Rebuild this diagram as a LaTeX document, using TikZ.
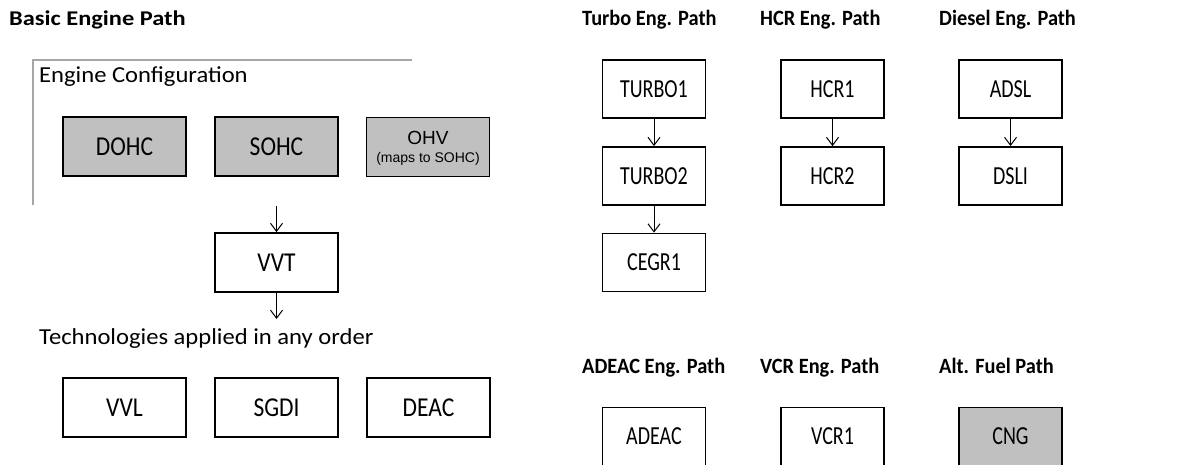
\documentclass[tikz,border=0pt]{standalone}
\usepackage{fontspec}
\usepackage{graphicx}
\setmainfont{Carlito}
\newfontfamily\arialf{Liberation Sans}
\usetikzlibrary{arrows.meta}
\definecolor{boxgray}{HTML}{C0C0C0}
\definecolor{framegray}{HTML}{A6A6A6}
\newcommand{\LT}[1]{\scalebox{1}[1.16]{#1}}
\newcommand{\RT}[1]{\scalebox{1}[1.3]{#1}}
\newcommand{\TT}[1]{\scalebox{1}[1.07]{#1}}
\newcommand{\BT}[1]{\scalebox{1}[0.86]{#1}}
\newcommand{\LB}[1]{\scalebox{1}[0.93]{#1}}
\begin{document}
\begin{tikzpicture}[x=1pt,y=-1pt,
  lbox/.style={draw,line width=1.8pt,minimum width=123pt,minimum height=59pt,inner sep=0pt,font=\fontsize{23.5}{28}\selectfont},
  rbox/.style={draw,line width=1.8pt,minimum width=103pt,minimum height=58pt,inner sep=0pt,font=\fontsize{20}{24}\selectfont},
  shaded/.style={fill=boxgray},
  title/.style={anchor=base west,inner sep=0pt,font=\fontsize{20.4}{24}\selectfont\bfseries},
  bigtitle/.style={anchor=base west,inner sep=0pt,font=\fontsize{24.4}{28}\selectfont\bfseries},
  label/.style={anchor=base west,inner sep=0pt,font=\fontsize{24.6}{28}\selectfont},
  conn/.style={line width=1pt,-{Straight Barb[length=8pt,width=12pt,line width=1pt]}}]
\useasboundingbox (0,0) rectangle (1183,465);
\clip (0,0) rectangle (1183,465);
% titles
\node[bigtitle] (tbasic) at (9,25.5) {\BT{Basic Engine Path}};
\node[title] (tturbo) at (582,25.5) {\TT{Turbo Eng. Path}};
\node[title] (thcr) at (760,25.5) {\TT{HCR Eng. Path}};
\node[title] (tdiesel) at (939,25.5) {\TT{Diesel Eng. Path}};
\node[title] (tadeac) at (582,373) {\TT{ADEAC Eng. Path}};
\node[title] (tvcr) at (760,373) {\TT{VCR Eng. Path}};
\node[title] (talt) at (939,373) {\TT{Alt. Fuel Path}};
% engine configuration frame
\draw[framegray,line width=1.5pt] (33,205) -- (33,60) -- (412,60);
\node[label] (lconf) at (39,82.7) {\LB{Engine Configuration}};
\node[lbox,shaded] (dohc) at (124.5,146.5) {\LT{DOHC}};
\node[lbox,shaded] (sohc) at (276.5,146.5) {\LT{SOHC}};
\node[lbox,shaded] (ohv) at (428,147) {};
\node[inner sep=0pt,anchor=base,font=\arialf\fontsize{19}{22}\selectfont] (ohvt) at (428,145) {OHV};
\node[inner sep=0pt,anchor=base,font=\arialf\fontsize{14}{16}\selectfont] (ohvs) at (428,163) {(maps to SOHC)};
\coordinate (cfgout) at (276.5,206);
\node[lbox] (vvt) at (276.5,262.5) {\LT{VVT}};
\coordinate (techin) at (276.5,319);
\node[label] (ltech) at (39,344) {\LB{Technologies applied in any order}};
\node[lbox] (vvl) at (124.5,407.5) {\LT{VVL}};
\node[lbox] (sgdi) at (276.5,407.5) {\LT{SGDI}};
\node[lbox] (deac) at (428.5,407.5) {\LT{DEAC}};
\draw[conn] (cfgout) -- (vvt.north);
\draw[conn] (vvt.south) -- (techin);
% right paths
\node[rbox] (turbo1) at (654,89) {\RT{TURBO1}};
\node[rbox] (turbo2) at (654,176) {\RT{TURBO2}};
\node[rbox] (cegr1) at (654,262.5) {\RT{CEGR1}};
\node[rbox] (hcr1) at (832.5,89) {\RT{HCR1}};
\node[rbox] (hcr2) at (832.5,176) {\RT{HCR2}};
\node[rbox] (adsl) at (1010.5,89) {\RT{ADSL}};
\node[rbox] (dsli) at (1010.5,176) {\RT{DSLI}};
\draw[conn] (turbo1) -- (turbo2);
\draw[conn] (turbo2) -- (cegr1);
\draw[conn] (hcr1) -- (hcr2);
\draw[conn] (adsl) -- (dsli);
\node[rbox] (adeac) at (654,436.5) {\RT{ADEAC}};
\node[rbox] (vcr1) at (832.5,436.5) {\RT{VCR1}};
\node[rbox,shaded] (cng) at (1010.5,436.5) {\RT{CNG}};
\end{tikzpicture}
\end{document}
